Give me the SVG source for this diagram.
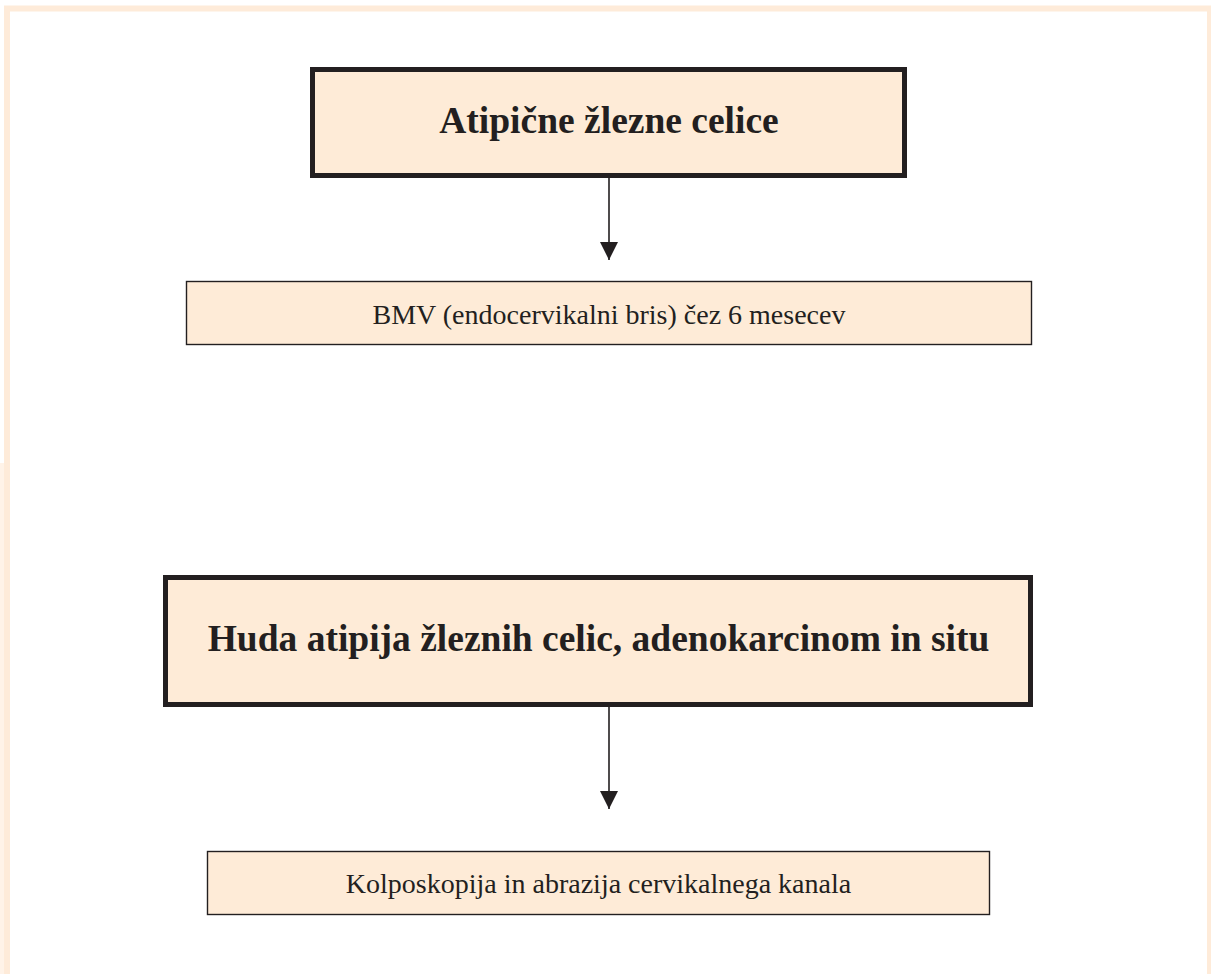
<svg xmlns="http://www.w3.org/2000/svg" width="1211" height="974" viewBox="0 0 1211 974">
<style>
.frame{fill:none;stroke:#FEEBD9;stroke-width:6}
.box{fill:#FEEBD7;stroke:#231F20}
.thick{stroke-width:5}
.thin{stroke-width:1.4}
.tb{font-family:"Liberation Serif","Times New Roman",serif;font-weight:bold;fill:#231F20;text-anchor:middle}
.tr{font-family:"Liberation Serif","Times New Roman",serif;fill:#231F20;text-anchor:middle}
.conn{stroke:#231F20;stroke-width:1.6;fill:none}
</style>
<defs>
<marker id="arr" viewBox="0 0 18 19" refX="18" refY="9" markerUnits="userSpaceOnUse" markerWidth="18" markerHeight="19" orient="auto">
<path d="M0,0 L18,9 L0,18 Z" fill="#231F20"/>
</marker>
</defs>
<rect width="1211" height="974" fill="#FFFFFF"/>
<rect class="frame" x="7" y="8.5" width="1203" height="1000"/>
<rect x="0" y="463" width="4" height="511" fill="#FFF3E8"/>
<g id="connectors">
<line class="conn" x1="609" y1="178" x2="609" y2="260" marker-end="url(#arr)"/>
<line class="conn" x1="609" y1="706" x2="609" y2="809" marker-end="url(#arr)"/>
</g>
<g id="node1">
<rect class="box thick" x="312.5" y="69.5" width="592" height="106"/>
<text class="tb" x="609" y="133" font-size="37.5">Atipične žlezne celice</text>
</g>
<g id="node2">
<rect class="box thin" x="186.5" y="281.5" width="845" height="63"/>
<text class="tr" x="609" y="324" font-size="28">BMV (endocervikalni bris) čez 6 mesecev</text>
</g>
<g id="node3">
<rect class="box thick" x="165.5" y="577.5" width="865" height="127"/>
<text class="tb" x="598.5" y="651" font-size="37.5">Huda atipija žleznih celic, adenokarcinom in situ</text>
</g>
<g id="node4">
<rect class="box thin" x="207.5" y="851.5" width="782" height="63"/>
<text class="tr" x="598.5" y="893" font-size="28">Kolposkopija in abrazija cervikalnega kanala</text>
</g>
</svg>
